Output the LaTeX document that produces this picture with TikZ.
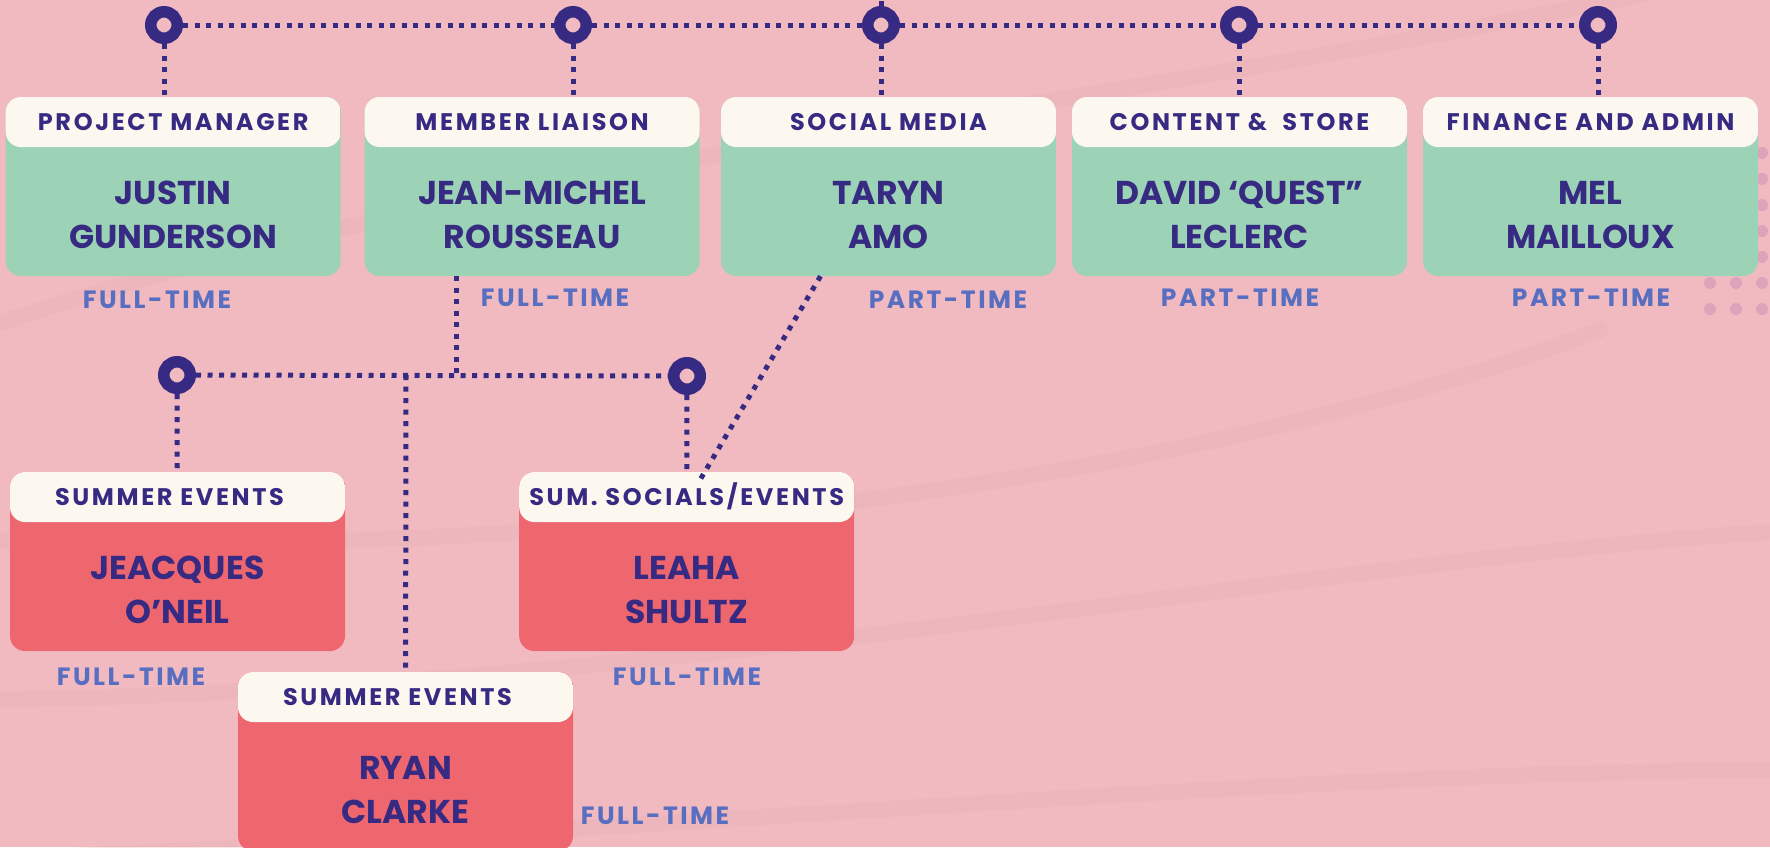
\documentclass[tikz,border=0pt]{standalone}
\usepackage{fontspec}
\newfontfamily\popfont{Poppins}
\newfontfamily\poprole{Poppins}[LetterSpace=11]
\newfontfamily\poptime{Poppins}[LetterSpace=10]
\definecolor{bgpink}{RGB}{241,186,192}
\definecolor{swoosh}{RGB}{230,170,180}
\definecolor{cream}{RGB}{252,248,240}
\definecolor{mint}{RGB}{156,211,182}
\definecolor{coral}{RGB}{239,103,110}
\definecolor{ink}{RGB}{55,42,130}
\definecolor{slate}{RGB}{88,110,192}
\definecolor{mauve}{RGB}{222,163,186}

\begin{document}
\begin{tikzpicture}[
  x=1pt, y=-1pt,
  card/.style={
    rectangle, rounded corners=15pt, inner sep=0pt,
    minimum width=335pt, minimum height=179pt,
    path picture={\fill[cream] ([yshift=1pt]path picture bounding box.north west)
      rectangle ([yshift=-50pt]path picture bounding box.north east);}
  },
  role/.style={
    anchor=base, inner sep=0pt, text=ink,
    font=\poprole\bfseries\fontsize{24}{26}\selectfont
  },
  person/.style={
    inner sep=0pt, text=ink, align=center,
    font=\popfont\bfseries\fontsize{33}{44}\selectfont
  },
  status/.style={
    inner sep=0pt, text=slate,
    font=\poptime\bfseries\fontsize{25}{26}\selectfont
  },
  hub/.style={
    circle, draw=ink, fill=bgpink, line width=11.5pt,
    minimum size=26.5pt, inner sep=0pt
  },
  dotline/.style={draw=ink, line width=5pt, dash pattern=on 5pt off 6.5pt},
  swirl/.style={swoosh, line width=16pt, opacity=0.3, line cap=round},
]
\useasboundingbox (0,0) rectangle (1770,847);
\clip (0,0) rectangle (1770,847);
\fill[bgpink] (0,0) rectangle (1770,847);

% background swooshes and dot grid
\draw[swirl] (-20,330) .. controls (500,150) and (1100,120) .. (1800,-40);
\draw[swirl] (-20,540) .. controls (600,560) and (1200,480) .. (1600,330);
\draw[swirl] (-20,700) .. controls (700,690) and (1300,560) .. (1800,530);
\draw[swirl] (-20,860) .. controls (700,830) and (1300,770) .. (1800,770);
\foreach \dx in {0,1,2}
  \foreach \dy in {0,...,6}
    \fill[mauve] (1710+26*\dx, 153+26*\dy) circle (6pt);

% top row
\node[card, fill=mint] (pm) at (173.2,186.5) {};
\node[card, fill=mint] (ml) at (532.1,186.5) {};
\node[card, fill=mint] (sm) at (888.5,186.5) {};
\node[card, fill=mint] (cs) at (1239.5,186.5) {};
\node[card, fill=mint] (fa) at (1590.5,186.5) {};
\node[role] (pm-role) at ([yshift=-33.5pt]pm.north) {PROJECT MANAGER};
\node[role] (ml-role) at ([yshift=-33.5pt]ml.north) {MEMBER LIAISON};
\node[role] (sm-role) at ([yshift=-33.5pt]sm.north) {SOCIAL MEDIA};
\node[role] (cs-role) at ([yshift=-33.5pt]cs.north) {CONTENT \& \ STORE};
\node[role] (fa-role) at ([yshift=-33.5pt]fa.north) {FINANCE AND ADMIN};
\node[person] (pm-name) at ([yshift=-28.5pt]pm.center) {JUSTIN\\GUNDERSON};
\node[person] (ml-name) at ([yshift=-28.5pt]ml.center) {JEAN-MICHEL\\ROUSSEAU};
\node[person] (sm-name) at ([yshift=-28.5pt]sm.center) {TARYN\\AMO};
\node[person] (cs-name) at ([yshift=-28.5pt]cs.center) {DAVID ‘QUEST”\\LECLERC};
\node[person] (fa-name) at ([yshift=-28.5pt]fa.center) {MEL\\MAILLOUX};
\node[status] (pm-time) at (157,300) {FULL-TIME};
\node[status] (ml-time) at (555,298) {FULL-TIME};
\node[status] (sm-time) at (948,300) {PART-TIME};
\node[status] (cs-time) at (1240,298) {PART-TIME};
\node[status] (fa-time) at (1591,298) {PART-TIME};

% summer row
\node[card, fill=coral] (se1) at (177.5,561.5) {};
\node[card, fill=coral] (ss)  at (686.7,561.5) {};
\node[card, fill=coral] (se2) at (405.5,761.5) {};
\node[role] (se1-role) at ([shift={(-8pt,-33.5pt)}]se1.north) {SUMMER EVENTS};
\node[role] (ss-role)  at ([yshift=-33.5pt]ss.north)  {SUM. SOCIALS/EVENTS};
\node[role] (se2-role) at ([shift={(-8pt,-33.5pt)}]se2.north) {SUMMER EVENTS};
\node[person] (se1-name) at ([yshift=-28.5pt]se1.center) {JEACQUES\\O’NEIL};
\node[person] (ss-name)  at ([yshift=-28.5pt]ss.center)  {LEAHA\\SHULTZ};
\node[person] (se2-name) at ([yshift=-28.5pt]se2.center) {RYAN\\CLARKE};
\node[status] (se1-time) at (131,677) {FULL-TIME};
\node[status] (ss-time)  at (687,677) {FULL-TIME};
\node[status] (se2-time) at (655,816) {FULL-TIME};

% hubs
\node[hub] (h1) at (164,25) {};
\node[hub] (h2) at (573,25) {};
\node[hub] (h3) at (881,25) {};
\node[hub] (h4) at (1239,25) {};
\node[hub] (h5) at (1598,25) {};
\node[hub] (h6) at (177,375) {};
\node[hub] (h7) at (687,376) {};
\coordinate (up) at (881,-5);
\coordinate (j1) at (456,375);
\coordinate (j2) at (406,375);

% connectors
\draw[dotline] (h1) -- (h2) -- (h3) -- (h4) -- (h5);
\draw[dotline] (h3) -- (up);
\draw[dotline] (h1) -- (h1 |- pm.north);
\draw[dotline] (h2) -- (h2 |- ml.north);
\draw[dotline] (h3) -- (h3 |- sm.north);
\draw[dotline] (h4) -- (h4 |- cs.north);
\draw[dotline] (h5) -- (h5 |- fa.north);
\draw[dotline] (ml.south -| j1) -- (j1);
\draw[dotline] (h6) -- (h7);
\draw[dotline] (h6) -- (se1);
\draw[dotline] (h7) -- (ss);
\draw[dotline] (j2) -- (se2);
\draw[dotline] ([xshift=-68pt]sm.south) -- ([shift={(11pt,-12pt)}]ss.north);
\end{tikzpicture}
\end{document}
